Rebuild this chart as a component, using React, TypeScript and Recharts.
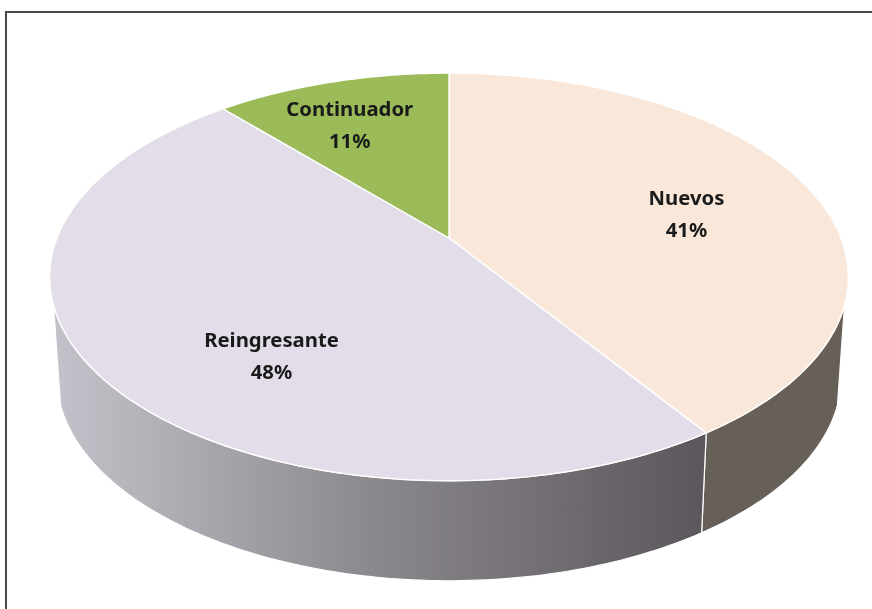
import React from 'react';
import { PieChart, Pie, Cell } from 'recharts';

const categories = ['Nuevos', 'Reingresante', 'Continuador'];
const shares = [40.7, 47.85, 11.45];
const topColors = ['#F9E8D9', '#E2DDE9', '#9BBB59'];
const wallFills = ['#676058', 'url(#wallGrad)', 'none'];
const labelNudges = [[24, 8], [34, 37], [-29, -19]];

const data = categories.map((name, i) => ({ name, value: shares[i] }));

const W = 872, H = 609;
const CX = 449, CY = 238, R = 392;
const P = 0.191, SQUASH = 0.501;
const WALL_DROP = 100, WALL_R = 385;
const WALL_MIN = 108.7, WALL_MAX = 251.3;

const rad = (d: number) => (d * Math.PI) / 180;
function proj(theta: number, cx: number, cy: number, r: number, frac = 1, drop = 0) {
  const s = Math.sin(rad(theta)), c = Math.cos(rad(theta));
  const w = 1 + P * c;
  return [cx + (r * frac * s) / w, cy + drop - (R * SQUASH * frac * c) / w];
}
function arc(from: number, to: number, cx: number, cy: number, r: number, drop = 0) {
  const pts: string[] = [];
  const n = Math.max(2, Math.ceil(Math.abs(to - from)));
  for (let i = 0; i <= n; i++) {
    const p = proj(from + ((to - from) * i) / n, cx, cy, r, 1, drop);
    pts.push(`${p[0].toFixed(2)} ${p[1].toFixed(2)}`);
  }
  return pts;
}

function TopShape(props: any) {
  const { cx, cy, outerRadius, startAngle, endAngle, fill } = props;
  const a = 90 - startAngle, b = 90 - endAngle;
  const d = `M${cx} ${cy} L${arc(a, b, cx, cy, outerRadius).join(' L')} Z`;
  return <path d={d} fill={fill} stroke="#FFFFFF" strokeWidth={1.4} strokeLinejoin="round" />;
}

function WallShape(props: any) {
  const { cx, cy, outerRadius, startAngle, endAngle, fill } = props;
  const a = Math.max(90 - startAngle, WALL_MIN), b = Math.min(90 - endAngle, WALL_MAX);
  if (b <= a) return <g />;
  const up = arc(a, b, cx, cy, outerRadius);
  const down = arc(b, a, cx, cy, WALL_R, WALL_DROP);
  return <path d={`M${up.join(' L')} L${down.join(' L')} Z`} fill={fill} stroke="#FFFFFF" strokeWidth={1.2} strokeLinejoin="round" />;
}

function renderLabel(props: any) {
  const { midAngle, percent, name, index } = props;
  const p = proj(90 - midAngle, CX, CY, R, 0.6);
  const x = p[0] + labelNudges[index][0];
  const y = p[1] + labelNudges[index][1];
  return (
    <text x={x} y={y} textAnchor="middle" fill="#1A1A1A" fontFamily="'Noto Sans', sans-serif" fontWeight={700} fontSize={20.3}>
      <tspan x={x} y={y - 9}>{name}</tspan>
      <tspan x={x} y={y + 23}>{`${Math.round(percent * 100)}%`}</tspan>
    </text>
  );
}

export default function App() {
  return (
    <div style={{ position: 'absolute', left: 0, top: 0, width: W, height: H, background: '#FFFFFF', overflow: 'hidden' }}>
      <div style={{ position: 'absolute', left: 5, top: 11, width: W, height: H, borderLeft: '2px solid #4A4A4A', borderTop: '2px solid #4A4A4A' }} />
      <div style={{ position: 'absolute', left: 0, top: 0, filter: 'blur(0.45px)' }}>
        <PieChart width={W} height={H} margin={{ top: 0, right: 0, bottom: 0, left: 0 }}>
          <defs>
            <linearGradient id="wallGrad" gradientUnits="userSpaceOnUse" x1={52} y1={0} x2={702} y2={0}>
              <stop offset="0" stopColor="#C6C2CB" />
              <stop offset="0.5" stopColor="#8A878D" />
              <stop offset="1" stopColor="#5B575C" />
            </linearGradient>
          </defs>
          <Pie data={data} dataKey="value" nameKey="name" cx={CX} cy={CY} innerRadius={0} outerRadius={R} startAngle={90} endAngle={-270} stroke="none" shape={WallShape} isAnimationActive={false} label={false} labelLine={false}>
            {data.map((d, i) => <Cell key={d.name} fill={wallFills[i]} />)}
          </Pie>
          <Pie data={data} dataKey="value" nameKey="name" cx={CX} cy={CY} innerRadius={0} outerRadius={R} startAngle={90} endAngle={-270} stroke="none" shape={TopShape} isAnimationActive={false} label={renderLabel} labelLine={false}>
            {data.map((d, i) => <Cell key={d.name} fill={topColors[i]} />)}
          </Pie>
        </PieChart>
      </div>
    </div>
  );
}
